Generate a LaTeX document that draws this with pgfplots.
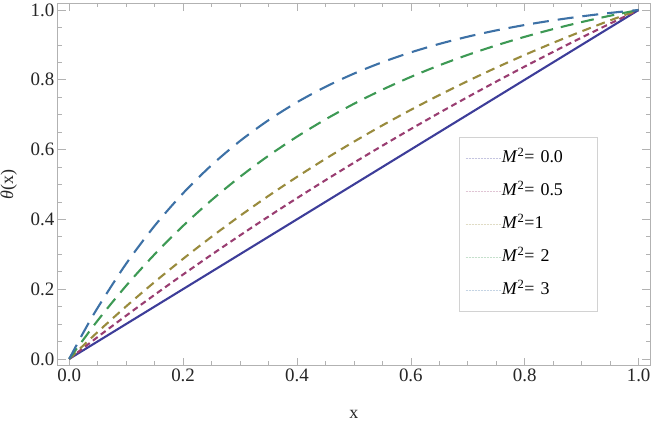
\documentclass[border=0pt]{standalone}
\usepackage{fontspec}
\setmainfont{Liberation Serif}
\usepackage{pgfplots}
\pgfplotsset{compat=1.18}
\definecolor{cA}{rgb}{0.24,0.24,0.6}
\definecolor{cB}{rgb}{0.6,0.24,0.4428}
\definecolor{cC}{rgb}{0.6,0.547,0.24}
\definecolor{cD}{rgb}{0.24,0.6,0.3294}
\definecolor{cE}{rgb}{0.24,0.4428,0.65}
\begin{document}
\begin{tikzpicture}
\begin{axis}[
  at={(0pt,0pt)}, anchor=south west,
  scale only axis, width=594pt, height=364pt,
  xmin=-0.02, xmax=1.02, ymin=-0.02, ymax=1.02,
  axis line style={gray!60, line width=0.8pt},
  tick style={gray!60, line width=0.7pt},
  major tick length=8pt, minor tick length=4.5pt,
  tick align=inside,
  xtick={0,0.2,0.4,0.6,0.8,1}, ytick={0,0.2,0.4,0.6,0.8,1},
  minor tick num=3,
  /pgf/number format/assume math mode=true,
  xticklabel style={/pgf/number format/fixed,/pgf/number format/fixed zerofill,/pgf/number format/precision=1},
  yticklabel style={/pgf/number format/fixed,/pgf/number format/fixed zerofill,/pgf/number format/precision=1},
  tick label style={font=\fontsize{19}{21}\selectfont, text=black!85},
  xlabel={x}, ylabel={\textit{θ}(x)},
  label style={font=\fontsize{18}{20}\selectfont, text=black!85},
  xlabel style={at={(axis description cs:0.5,-0.134)}, anchor=center},
  ylabel style={at={(axis description cs:-0.083,0.5)}, anchor=center},
  legend style={at={(axis description cs:0.678,0.63)}, anchor=north west,
    draw=gray!35, fill=white, inner xsep=6pt, inner ysep=4.5pt, row sep=0pt,
    font=\fontsize{18}{20}\selectfont,
    nodes={text height=13pt, text depth=4pt, inner ysep=8pt, inner xsep=0pt, text width=90pt, align=left}},
  legend cell align=left,
  legend image code/.code={\draw[#1] (0pt,0pt)--(15pt,0pt); \path (0pt,0pt)--(36pt,0pt);},
]
\addlegendimage{cA!30, line width=0.5pt, densely dotted}
\addlegendentry{\textit{M}\textsuperscript{2}= 0.0}
\addlegendimage{cB!30, line width=0.5pt, densely dotted}
\addlegendentry{\textit{M}\textsuperscript{2}= 0.5}
\addlegendimage{cC!30, line width=0.5pt, densely dotted}
\addlegendentry{\textit{M}\textsuperscript{2}=1}
\addlegendimage{cD!30, line width=0.5pt, densely dotted}
\addlegendentry{\textit{M}\textsuperscript{2}= 2}
\addlegendimage{cE!30, line width=0.5pt, densely dotted}
\addlegendentry{\textit{M}\textsuperscript{2}= 3}
\addplot[cA, line width=2.1pt, forget plot] coordinates {(0,0) (1,1)};
\addplot[cB, line width=2.1pt, dash pattern=on 6pt off 4pt, smooth, forget plot] coordinates {
(0,0) (0.05,0.06275) (0.1,0.12395) (0.15,0.18364) (0.2,0.24186) (0.25,0.29863)
(0.3,0.35401) (0.35,0.40802) (0.4,0.46069) (0.45,0.51207) (0.5,0.56218)
(0.55,0.61105) (0.6,0.65871) (0.65,0.70520) (0.7,0.75054) (0.75,0.79475)
(0.8,0.83788) (0.85,0.87994) (0.9,0.92097) (0.95,0.96098) (1,1)};
\addplot[cC, line width=2.1pt, dash pattern=on 9pt off 6pt, smooth, forget plot] coordinates {
(0,0) (0.05,0.07715) (0.1,0.15055) (0.15,0.22036) (0.2,0.28676) (0.25,0.34993)
(0.3,0.41002) (0.35,0.46718) (0.4,0.52155) (0.45,0.57326) (0.5,0.62246)
(0.55,0.66925) (0.6,0.71377) (0.65,0.75611) (0.7,0.79639) (0.75,0.83470)
(0.8,0.87115) (0.85,0.90582) (0.9,0.93879) (0.95,0.97016) (1,1)};
\addplot[cD, line width=2.1pt, dash pattern=on 13pt off 8pt, smooth, forget plot] coordinates {
(0,0) (0.05,0.11006) (0.1,0.20964) (0.15,0.29975) (0.2,0.38128) (0.25,0.45505)
(0.3,0.52181) (0.35,0.58221) (0.4,0.63686) (0.45,0.68631) (0.5,0.73106)
(0.55,0.77155) (0.6,0.80818) (0.65,0.84133) (0.7,0.87132) (0.75,0.89846)
(0.8,0.92302) (0.85,0.94524) (0.9,0.96535) (0.95,0.98354) (1,1)};
\addplot[cE, line width=2.1pt, dash pattern=on 16pt off 9pt, smooth, forget plot] coordinates {
(0,0) (0.025,0.07604) (0.05,0.14659) (0.1,0.27276) (0.15,0.38136) (0.2,0.47483) (0.25,0.55528)
(0.3,0.62452) (0.35,0.68412) (0.4,0.73542) (0.45,0.77957) (0.5,0.81757)
(0.55,0.85028) (0.6,0.87844) (0.65,0.90267) (0.7,0.92352) (0.75,0.94147)
(0.8,0.95692) (0.85,0.97022) (0.9,0.98167) (0.95,0.99152) (1,1)};
\end{axis}
\pgfresetboundingbox
\path (-58pt,-55.4pt) rectangle (596pt,367pt);
\end{tikzpicture}
\end{document}
